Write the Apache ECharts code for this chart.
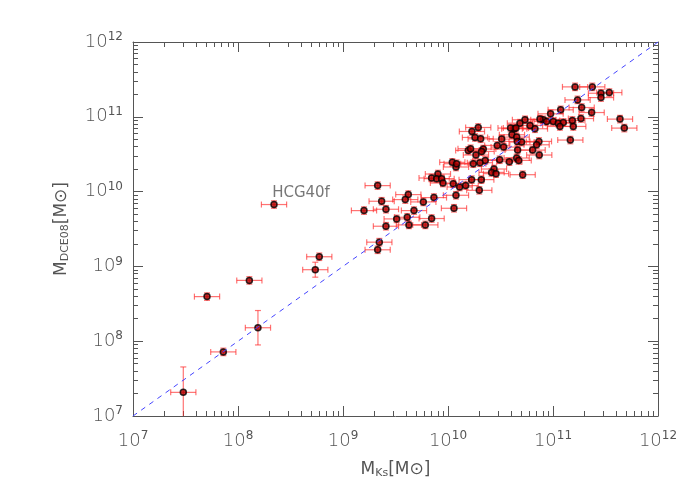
<!DOCTYPE html>
<html lang="en">
<head>
<meta charset="UTF-8" />
<title>M_DCE08 vs M_Ks</title>
<script src="https://cdn.jsdelivr.net/npm/echarts@6.0.0/dist/echarts.min.js"></script>
</head>
<body style="margin:0">
<div id="main" style="width:700px;height:500px"></div>
<script>
// log10 masses
const logMks = [11.21,11.374,11.457,11.536,11.457,11.234,11.073,11.273,11.368,11.266,11.184,11.638,11.679,11.165,10.977,10.908,10.876,10.939,10.828,10.781,10.733,10.685,10.631,10.596,10.647,10.288,10.228,10.257,10.311,10.511,10.609,10.654,10.66,10.701,10.866,10.844,10.806,10.869,10.469,10.53,10.336,10.193,10.215,10.266,10.32,10.663,10.654,10.673,10.584,10.492,10.355,10.304,10.241,10.041,10.076,10.082,10.438,10.415,10.457,10.711,9.904,9.844,9.892,9.939,9.952,10.05,10.111,10.168,10.225,10.317,10.298,10.076,9.866,9.765,9.622,9.593,9.33,9.368,9.409,9.2,9.676,10.057,9.511,9.612,9.628,9.784,9.844,9.409,9.346,9.33,11.003,11.05,11.098,11.066,11.193,
  7.479,7.86,8.19,7.705,8.108,8.343,8.736,8.774];
const logMdce = [11.40,11.40,11.315,11.324,11.257,11.226,11.093,11.124,11.057,10.977,10.951,10.969,10.849,10.689,11.04,10.96,10.969,10.937,10.84,10.884,10.96,10.915,10.84,10.849,10.849,10.857,10.804,10.724,10.706,10.702,10.76,10.729,10.671,10.662,10.671,10.626,10.555,10.489,10.617,10.595,10.569,10.551,10.573,10.489,10.537,10.555,10.449,10.417,10.4,10.426,10.417,10.386,10.373,10.391,10.329,10.373,10.302,10.257,10.24,10.226,10.235,10.182,10.173,10.173,10.115,10.106,10.062,10.08,10.16,10.16,10.017,9.951,9.92,9.862,9.96,9.893,10.08,9.871,9.764,9.746,9.746,9.777,9.635,9.657,9.555,9.555,9.64,9.537,9.324,9.222,10.937,10.915,10.924,10.871,10.871,
  7.316,7.857,8.18,8.596,8.813,9.827,8.956,9.129];
// typical errors in dex, with overrides for the low-mass points
const defaultXerr = 0.12;
const defaultYerr = 0.05;
const yerrUp = {95: 0.34, 97: 0.23, 101: 0.1};
const yerrDown = {95: 0.5, 97: 0.23, 101: 0.1};
const oneToOne = [[1e7, 1e7], [1e12, 1e12]];
const labelPos = [10 ** 8.6, 10 ** 9.98];
const decadeLabels = {7: '7', 8: '8', 9: '9', 10: '10', 11: '11', 12: '12'};

const pts = logMks.map((lx, i) => {
  const ly = logMdce[i];
  const up = yerrUp[i] !== undefined ? yerrUp[i] : defaultYerr;
  const dn = yerrDown[i] !== undefined ? yerrDown[i] : defaultYerr;
  return [10 ** lx, 10 ** ly, 10 ** (lx - defaultXerr), 10 ** (lx + defaultXerr), 10 ** (ly - dn), 10 ** (ly + up)];
});

const grey = '#555';
function expLabel(v) {
  const e = Math.round(Math.log10(v));
  return '{b|10}{s|' + decadeLabels[e] + '}';
}
const tickRich = {
  b: {fontSize: 18, color: grey, fontFamily: 'DejaVu Sans', fontWeight: 200},
  s: {fontSize: 12, color: grey, fontFamily: 'DejaVu Sans', verticalAlign: 'top', padding: [0, 0, 10, 0]}
};
function baseAxis(extra) {
  return Object.assign({
    type: 'log', logBase: 10, min: 1e7, max: 1e12,
    axisLine: {lineStyle: {color: grey}},
    axisTick: {inside: true, length: 10, lineStyle: {color: grey}},
    minorTick: {show: true, splitNumber: 9, length: 5, lineStyle: {color: grey}},
    splitLine: {show: false}
  }, extra);
}

const chart = echarts.init(document.getElementById('main'));
chart.setOption({
  animation: false,
  backgroundColor: '#fff',
  grid: {left: 133, right: 42, top: 42, bottom: 84},
  xAxis: [
    baseAxis({position: 'bottom', axisLabel: {formatter: expLabel, rich: tickRich, margin: 14},
      name: '{m|M}{sub|Ks}{m|[M}{sun|⊙}{m|]}', nameLocation: 'middle', nameGap: 44,
      nameTextStyle: {rich: {
        m: {fontSize: 17, color: grey, fontFamily: 'DejaVu Sans'},
        sub: {fontSize: 11, color: grey, fontFamily: 'DejaVu Sans', verticalAlign: 'bottom', padding: [8, 0, 0, 0]},
        sun: {fontSize: 17, color: grey, fontFamily: 'DejaVu Sans'}}}}),
    baseAxis({position: 'top', axisLabel: {show: false}})
  ],
  yAxis: [
    baseAxis({position: 'left', axisLabel: {formatter: expLabel, rich: tickRich, margin: 10},
      name: '{m|M}{sub|DCE08}{m|[M}{sun|⊙}{m|]}', nameLocation: 'middle', nameGap: 62,
      nameTextStyle: {rich: {
        m: {fontSize: 17, color: grey, fontFamily: 'DejaVu Sans'},
        sub: {fontSize: 11, color: grey, fontFamily: 'DejaVu Sans', verticalAlign: 'bottom', padding: [8, 0, 0, 0]},
        sun: {fontSize: 17, color: grey, fontFamily: 'DejaVu Sans'}}}}),
    baseAxis({position: 'right', axisLabel: {show: false}})
  ],
  series: [
    {
      type: 'line', data: oneToOne, showSymbol: false, silent: true,
      lineStyle: {color: '#4444ff', width: 1, type: [5, 5]}
    },
    {
      type: 'custom',
      data: pts,
      renderItem: function (params, api) {
        const c = api.coord([api.value(0), api.value(1)]);
        const x0 = api.coord([api.value(2), api.value(1)]);
        const x1 = api.coord([api.value(3), api.value(1)]);
        const y0 = api.coord([api.value(0), api.value(4)]);
        const y1 = api.coord([api.value(0), api.value(5)]);
        const cap = 3;
        const st = {stroke: 'rgba(255,40,40,0.65)', lineWidth: 1.2};
        const seg = (a, b, cc, d) => ({type: 'line', shape: {x1: a, y1: b, x2: cc, y2: d}, style: st});
        return {type: 'group', children: [
          seg(x0[0], c[1], x1[0], c[1]),
          seg(x0[0], c[1] - cap, x0[0], c[1] + cap),
          seg(x1[0], c[1] - cap, x1[0], c[1] + cap),
          seg(c[0], y0[1], c[0], y1[1]),
          seg(c[0] - cap, y0[1], c[0] + cap, y0[1]),
          seg(c[0] - cap, y1[1], c[0] + cap, y1[1])
        ]};
      },
      clip: true
    },
    {
      type: 'scatter', data: pts.map(p => [p[0], p[1]]), symbolSize: 6,
      itemStyle: {color: '#b00000', borderColor: '#000', borderWidth: 1.5}
    },
    {
      type: 'scatter', data: [labelPos], symbolSize: 0,
      label: {show: true, formatter: 'HCG40f', position: 'inside', color: grey, fontSize: 15, fontFamily: 'DejaVu Sans'}
    }
  ]
});
</script>
</body>
</html>
